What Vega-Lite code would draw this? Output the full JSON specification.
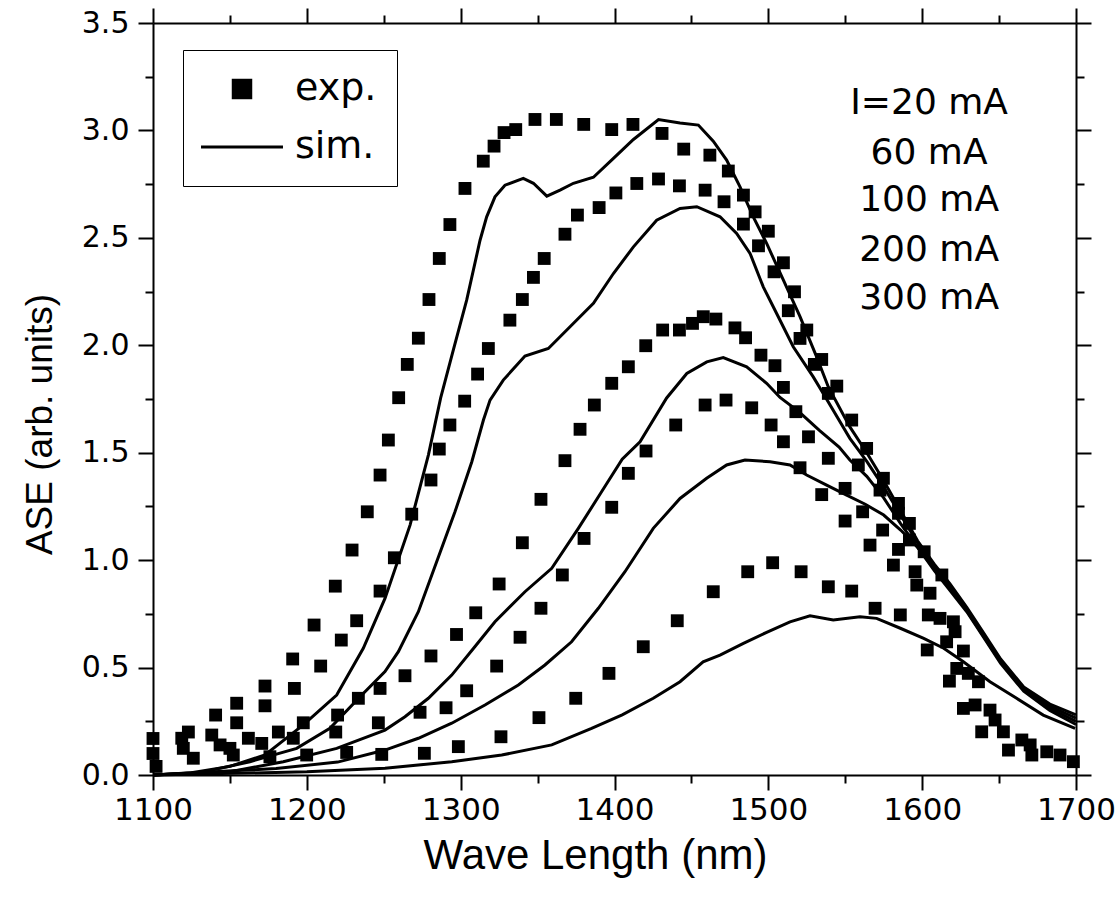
{
  "$schema": "https://vega.github.io/schema/vega-lite/v6.json",
  "width": 923,
  "height": 752,
  "autosize": "none",
  "padding": {"left": 153, "top": 23, "right": 44, "bottom": 130},
  "background": "white",
  "config": {"view": {"stroke": null}, "font": "DejaVu Sans"},
  "datasets": {
    "exp": [
      {"current": "300 mA", "wl": 1100, "ase": 0.17}, {"current": "300 mA", "wl": 1123, "ase": 0.2}, {"current": "300 mA", "wl": 1140.7, "ase": 0.279}, {"current": "300 mA", "wl": 1154.4, "ase": 0.334}, {"current": "300 mA", "wl": 1172.8, "ase": 0.414}, {"current": "300 mA", "wl": 1190.8, "ase": 0.54}, {"current": "300 mA", "wl": 1204.7, "ase": 0.698}, {"current": "300 mA", "wl": 1218.5, "ase": 0.879}, {"current": "300 mA", "wl": 1229.4, "ase": 1.047}, {"current": "300 mA", "wl": 1239.3, "ase": 1.225}, {"current": "300 mA", "wl": 1247.6, "ase": 1.396}, {"current": "300 mA", "wl": 1253, "ase": 1.559}, {"current": "300 mA", "wl": 1259.7, "ase": 1.756}, {"current": "300 mA", "wl": 1265.3, "ase": 1.911}, {"current": "300 mA", "wl": 1272.5, "ase": 2.033}, {"current": "300 mA", "wl": 1279.4, "ase": 2.213}, {"current": "300 mA", "wl": 1286.1, "ase": 2.404}, {"current": "300 mA", "wl": 1293, "ase": 2.562}, {"current": "300 mA", "wl": 1302.8, "ase": 2.73}, {"current": "300 mA", "wl": 1314.7, "ase": 2.857}, {"current": "300 mA", "wl": 1321.7, "ase": 2.927}, {"current": "300 mA", "wl": 1328.2, "ase": 2.99}, {"current": "300 mA", "wl": 1335.8, "ase": 3.004}, {"current": "300 mA", "wl": 1348.3, "ase": 3.051}, {"current": "300 mA", "wl": 1362.2, "ase": 3.051}, {"current": "300 mA", "wl": 1380, "ase": 3.028}, {"current": "300 mA", "wl": 1398.2, "ase": 3.004}, {"current": "300 mA", "wl": 1412, "ase": 3.028}, {"current": "300 mA", "wl": 1430.9, "ase": 2.986}, {"current": "300 mA", "wl": 1445, "ase": 2.913}, {"current": "300 mA", "wl": 1462, "ase": 2.885}, {"current": "300 mA", "wl": 1474, "ase": 2.811}, {"current": "300 mA", "wl": 1483.8, "ase": 2.699}, {"current": "300 mA", "wl": 1491.4, "ase": 2.621}, {"current": "300 mA", "wl": 1500, "ase": 2.531}, {"current": "300 mA", "wl": 1509.8, "ase": 2.384}, {"current": "300 mA", "wl": 1517, "ase": 2.249}, {"current": "300 mA", "wl": 1525, "ase": 2.071}, {"current": "300 mA", "wl": 1534.7, "ase": 1.934}, {"current": "300 mA", "wl": 1544.5, "ase": 1.81}, {"current": "300 mA", "wl": 1554.2, "ase": 1.652}, {"current": "300 mA", "wl": 1563.9, "ase": 1.52}, {"current": "300 mA", "wl": 1574.8, "ase": 1.381}, {"current": "300 mA", "wl": 1584.6, "ase": 1.264}, {"current": "300 mA", "wl": 1591.7, "ase": 1.171}, {"current": "300 mA", "wl": 1601.3, "ase": 1.039}, {"current": "300 mA", "wl": 1612.8, "ase": 0.931}, {"current": "300 mA", "wl": 1620.3, "ase": 0.713}, {"current": "300 mA", "wl": 1630, "ase": 0.473}, {"current": "300 mA", "wl": 1644.1, "ase": 0.302}, {"current": "300 mA", "wl": 1652.8, "ase": 0.201}, {"current": "300 mA", "wl": 1670.2, "ase": 0.14}, {"current": "300 mA", "wl": 1689.6, "ase": 0.093},
      {"current": "200 mA", "wl": 1100, "ase": 0.1}, {"current": "200 mA", "wl": 1118.7, "ase": 0.171}, {"current": "200 mA", "wl": 1138.2, "ase": 0.186}, {"current": "200 mA", "wl": 1154.4, "ase": 0.243}, {"current": "200 mA", "wl": 1172.8, "ase": 0.322}, {"current": "200 mA", "wl": 1191.9, "ase": 0.403}, {"current": "200 mA", "wl": 1209, "ase": 0.507}, {"current": "200 mA", "wl": 1222.4, "ase": 0.628}, {"current": "200 mA", "wl": 1232.4, "ase": 0.718}, {"current": "200 mA", "wl": 1247.6, "ase": 0.856}, {"current": "200 mA", "wl": 1256.9, "ase": 1.011}, {"current": "200 mA", "wl": 1268.2, "ase": 1.214}, {"current": "200 mA", "wl": 1280.7, "ase": 1.373}, {"current": "200 mA", "wl": 1286.1, "ase": 1.517}, {"current": "200 mA", "wl": 1293, "ase": 1.629}, {"current": "200 mA", "wl": 1302.6, "ase": 1.74}, {"current": "200 mA", "wl": 1311, "ase": 1.866}, {"current": "200 mA", "wl": 1318, "ase": 1.985}, {"current": "200 mA", "wl": 1332, "ase": 2.117}, {"current": "200 mA", "wl": 1340.1, "ase": 2.213}, {"current": "200 mA", "wl": 1347.3, "ase": 2.316}, {"current": "200 mA", "wl": 1354.3, "ase": 2.404}, {"current": "200 mA", "wl": 1367.8, "ase": 2.517}, {"current": "200 mA", "wl": 1375.9, "ase": 2.606}, {"current": "200 mA", "wl": 1390, "ase": 2.641}, {"current": "200 mA", "wl": 1400.9, "ase": 2.709}, {"current": "200 mA", "wl": 1414.5, "ase": 2.753}, {"current": "200 mA", "wl": 1428.6, "ase": 2.774}, {"current": "200 mA", "wl": 1442.2, "ase": 2.742}, {"current": "200 mA", "wl": 1458.9, "ase": 2.722}, {"current": "200 mA", "wl": 1471.2, "ase": 2.668}, {"current": "200 mA", "wl": 1483.8, "ase": 2.564}, {"current": "200 mA", "wl": 1493.6, "ase": 2.463}, {"current": "200 mA", "wl": 1503.7, "ase": 2.342}, {"current": "200 mA", "wl": 1513, "ase": 2.161}, {"current": "200 mA", "wl": 1520.6, "ase": 2.032}, {"current": "200 mA", "wl": 1529.9, "ase": 1.911}, {"current": "200 mA", "wl": 1539, "ase": 1.776}, {"current": "200 mA", "wl": 1558.5, "ase": 1.443}, {"current": "200 mA", "wl": 1572.6, "ase": 1.326}, {"current": "200 mA", "wl": 1584.6, "ase": 1.218}, {"current": "200 mA", "wl": 1591.7, "ase": 1.094}, {"current": "200 mA", "wl": 1604, "ase": 0.745}, {"current": "200 mA", "wl": 1621.4, "ase": 0.667}, {"current": "200 mA", "wl": 1634.4, "ase": 0.326}, {"current": "200 mA", "wl": 1647.4, "ase": 0.256}, {"current": "200 mA", "wl": 1664.8, "ase": 0.163}, {"current": "200 mA", "wl": 1681, "ase": 0.108}, {"current": "200 mA", "wl": 1698.3, "ase": 0.062},
      {"current": "100 mA", "wl": 1102, "ase": 0.04}, {"current": "100 mA", "wl": 1119.7, "ase": 0.124}, {"current": "100 mA", "wl": 1143.6, "ase": 0.14}, {"current": "100 mA", "wl": 1162, "ase": 0.171}, {"current": "100 mA", "wl": 1181.5, "ase": 0.2}, {"current": "100 mA", "wl": 1197.7, "ase": 0.243}, {"current": "100 mA", "wl": 1220, "ase": 0.279}, {"current": "100 mA", "wl": 1233.5, "ase": 0.357}, {"current": "100 mA", "wl": 1247.6, "ase": 0.403}, {"current": "100 mA", "wl": 1263.8, "ase": 0.462}, {"current": "100 mA", "wl": 1280.7, "ase": 0.554}, {"current": "100 mA", "wl": 1297.3, "ase": 0.654}, {"current": "100 mA", "wl": 1309.8, "ase": 0.755}, {"current": "100 mA", "wl": 1325, "ase": 0.889}, {"current": "100 mA", "wl": 1340.1, "ase": 1.081}, {"current": "100 mA", "wl": 1352.2, "ase": 1.283}, {"current": "100 mA", "wl": 1367.8, "ase": 1.463}, {"current": "100 mA", "wl": 1377.6, "ase": 1.609}, {"current": "100 mA", "wl": 1386.9, "ase": 1.722}, {"current": "100 mA", "wl": 1398.2, "ase": 1.823}, {"current": "100 mA", "wl": 1409, "ase": 1.9}, {"current": "100 mA", "wl": 1420.3, "ase": 1.998}, {"current": "100 mA", "wl": 1431.3, "ase": 2.071}, {"current": "100 mA", "wl": 1442.2, "ase": 2.071}, {"current": "100 mA", "wl": 1450.7, "ase": 2.102}, {"current": "100 mA", "wl": 1457.7, "ase": 2.133}, {"current": "100 mA", "wl": 1465.9, "ase": 2.122}, {"current": "100 mA", "wl": 1478.3, "ase": 2.081}, {"current": "100 mA", "wl": 1485.2, "ase": 2.035}, {"current": "100 mA", "wl": 1495.2, "ase": 1.954}, {"current": "100 mA", "wl": 1504.3, "ase": 1.905}, {"current": "100 mA", "wl": 1509.8, "ase": 1.804}, {"current": "100 mA", "wl": 1517.9, "ase": 1.691}, {"current": "100 mA", "wl": 1526.1, "ase": 1.574}, {"current": "100 mA", "wl": 1539, "ase": 1.474}, {"current": "100 mA", "wl": 1549.9, "ase": 1.334}, {"current": "100 mA", "wl": 1561.3, "ase": 1.225}, {"current": "100 mA", "wl": 1574.3, "ase": 1.14}, {"current": "100 mA", "wl": 1584.6, "ase": 1.05}, {"current": "100 mA", "wl": 1595.4, "ase": 0.946}, {"current": "100 mA", "wl": 1605.1, "ase": 0.846}, {"current": "100 mA", "wl": 1611.6, "ase": 0.729}, {"current": "100 mA", "wl": 1626.8, "ase": 0.577}, {"current": "100 mA", "wl": 1636.6, "ase": 0.434}, {"current": "100 mA", "wl": 1656.1, "ase": 0.116}, {"current": "100 mA", "wl": 1671.3, "ase": 0.093},
      {"current": "60 mA", "wl": 1126.2, "ase": 0.078}, {"current": "60 mA", "wl": 1150, "ase": 0.124}, {"current": "60 mA", "wl": 1170.7, "ase": 0.147}, {"current": "60 mA", "wl": 1191.2, "ase": 0.171}, {"current": "60 mA", "wl": 1218.8, "ase": 0.2}, {"current": "60 mA", "wl": 1246.5, "ase": 0.243}, {"current": "60 mA", "wl": 1273.6, "ase": 0.292}, {"current": "60 mA", "wl": 1290.5, "ase": 0.313}, {"current": "60 mA", "wl": 1303.9, "ase": 0.392}, {"current": "60 mA", "wl": 1323.4, "ase": 0.507}, {"current": "60 mA", "wl": 1338.6, "ase": 0.641}, {"current": "60 mA", "wl": 1352.2, "ase": 0.776}, {"current": "60 mA", "wl": 1366.1, "ase": 0.931}, {"current": "60 mA", "wl": 1380.2, "ase": 1.101}, {"current": "60 mA", "wl": 1398.2, "ase": 1.246}, {"current": "60 mA", "wl": 1409, "ase": 1.404}, {"current": "60 mA", "wl": 1420.5, "ase": 1.508}, {"current": "60 mA", "wl": 1439.8, "ase": 1.629}, {"current": "60 mA", "wl": 1458.9, "ase": 1.722}, {"current": "60 mA", "wl": 1472.5, "ase": 1.745}, {"current": "60 mA", "wl": 1489.2, "ase": 1.709}, {"current": "60 mA", "wl": 1501.8, "ase": 1.629}, {"current": "60 mA", "wl": 1509.8, "ase": 1.551}, {"current": "60 mA", "wl": 1520.6, "ase": 1.43}, {"current": "60 mA", "wl": 1534.7, "ase": 1.305}, {"current": "60 mA", "wl": 1549.9, "ase": 1.182}, {"current": "60 mA", "wl": 1566.1, "ase": 1.07}, {"current": "60 mA", "wl": 1581.3, "ase": 0.977}, {"current": "60 mA", "wl": 1596.5, "ase": 0.884}, {"current": "60 mA", "wl": 1615.9, "ase": 0.62}, {"current": "60 mA", "wl": 1622.5, "ase": 0.496}, {"current": "60 mA", "wl": 1626.8, "ase": 0.31}, {"current": "60 mA", "wl": 1638.7, "ase": 0.201},
      {"current": "20 mA", "wl": 1152.2, "ase": 0.093}, {"current": "20 mA", "wl": 1176, "ase": 0.085}, {"current": "20 mA", "wl": 1199.9, "ase": 0.093}, {"current": "20 mA", "wl": 1225.9, "ase": 0.105}, {"current": "20 mA", "wl": 1248.7, "ase": 0.096}, {"current": "20 mA", "wl": 1276.4, "ase": 0.101}, {"current": "20 mA", "wl": 1298.5, "ase": 0.132}, {"current": "20 mA", "wl": 1326.2, "ase": 0.178}, {"current": "20 mA", "wl": 1350.9, "ase": 0.267}, {"current": "20 mA", "wl": 1374.8, "ase": 0.357}, {"current": "20 mA", "wl": 1396.4, "ase": 0.473}, {"current": "20 mA", "wl": 1418.7, "ase": 0.597}, {"current": "20 mA", "wl": 1440.8, "ase": 0.718}, {"current": "20 mA", "wl": 1464.2, "ase": 0.853}, {"current": "20 mA", "wl": 1486.6, "ase": 0.946}, {"current": "20 mA", "wl": 1502.8, "ase": 0.988}, {"current": "20 mA", "wl": 1521.3, "ase": 0.946}, {"current": "20 mA", "wl": 1539, "ase": 0.876}, {"current": "20 mA", "wl": 1554.2, "ase": 0.856}, {"current": "20 mA", "wl": 1569.4, "ase": 0.776}, {"current": "20 mA", "wl": 1585.8, "ase": 0.745}, {"current": "20 mA", "wl": 1603.3, "ase": 0.582}, {"current": "20 mA", "wl": 1617.7, "ase": 0.437}
    ],
    "sim": [
      {"current": "300 mA", "wl": 1100, "ase": 0}, {"current": "300 mA", "wl": 1125, "ase": 0.01}, {"current": "300 mA", "wl": 1150, "ase": 0.04}, {"current": "300 mA", "wl": 1172.8, "ase": 0.093}, {"current": "300 mA", "wl": 1197.7, "ase": 0.233}, {"current": "300 mA", "wl": 1219.4, "ase": 0.372}, {"current": "300 mA", "wl": 1236.7, "ase": 0.59}, {"current": "300 mA", "wl": 1250.8, "ase": 0.822}, {"current": "300 mA", "wl": 1267.1, "ase": 1.163}, {"current": "300 mA", "wl": 1279, "ase": 1.489}, {"current": "300 mA", "wl": 1287, "ase": 1.755}, {"current": "300 mA", "wl": 1295.2, "ase": 1.978}, {"current": "300 mA", "wl": 1303.9, "ase": 2.21}, {"current": "300 mA", "wl": 1312.6, "ase": 2.489}, {"current": "300 mA", "wl": 1316.9, "ase": 2.598}, {"current": "300 mA", "wl": 1322.3, "ase": 2.691}, {"current": "300 mA", "wl": 1328.8, "ase": 2.745}, {"current": "300 mA", "wl": 1340.7, "ase": 2.777}, {"current": "300 mA", "wl": 1347.3, "ase": 2.754}, {"current": "300 mA", "wl": 1356, "ase": 2.694}, {"current": "300 mA", "wl": 1364.6, "ase": 2.722}, {"current": "300 mA", "wl": 1373.3, "ase": 2.754}, {"current": "300 mA", "wl": 1386.3, "ase": 2.782}, {"current": "300 mA", "wl": 1399.3, "ase": 2.87}, {"current": "300 mA", "wl": 1412.3, "ase": 2.958}, {"current": "300 mA", "wl": 1428.6, "ase": 3.051}, {"current": "300 mA", "wl": 1442.6, "ase": 3.035}, {"current": "300 mA", "wl": 1454.5, "ase": 3.025}, {"current": "300 mA", "wl": 1464.2, "ase": 2.95}, {"current": "300 mA", "wl": 1472.9, "ase": 2.862}, {"current": "300 mA", "wl": 1481.6, "ase": 2.737}, {"current": "300 mA", "wl": 1490.2, "ase": 2.598}, {"current": "300 mA", "wl": 1498.9, "ase": 2.474}, {"current": "300 mA", "wl": 1509.8, "ase": 2.303}, {"current": "300 mA", "wl": 1520.6, "ase": 2.133}, {"current": "300 mA", "wl": 1531.4, "ase": 1.946}, {"current": "300 mA", "wl": 1539, "ase": 1.806}, {"current": "300 mA", "wl": 1553, "ase": 1.62}, {"current": "300 mA", "wl": 1564, "ase": 1.5}, {"current": "300 mA", "wl": 1575, "ase": 1.37}, {"current": "300 mA", "wl": 1586, "ase": 1.23}, {"current": "300 mA", "wl": 1597, "ase": 1.09}, {"current": "300 mA", "wl": 1608, "ase": 0.98}, {"current": "300 mA", "wl": 1618, "ase": 0.89}, {"current": "300 mA", "wl": 1629, "ase": 0.78}, {"current": "300 mA", "wl": 1640, "ase": 0.66}, {"current": "300 mA", "wl": 1651, "ase": 0.54}, {"current": "300 mA", "wl": 1666, "ase": 0.41}, {"current": "300 mA", "wl": 1683, "ase": 0.33}, {"current": "300 mA", "wl": 1700, "ase": 0.28},
      {"current": "200 mA", "wl": 1100, "ase": 0}, {"current": "200 mA", "wl": 1130, "ase": 0.01}, {"current": "200 mA", "wl": 1163, "ase": 0.062}, {"current": "200 mA", "wl": 1193.4, "ase": 0.124}, {"current": "200 mA", "wl": 1215, "ase": 0.217}, {"current": "200 mA", "wl": 1234.6, "ase": 0.364}, {"current": "200 mA", "wl": 1250.8, "ase": 0.481}, {"current": "200 mA", "wl": 1259.5, "ase": 0.574}, {"current": "200 mA", "wl": 1272.5, "ase": 0.76}, {"current": "200 mA", "wl": 1284.4, "ase": 0.993}, {"current": "200 mA", "wl": 1296.3, "ase": 1.225}, {"current": "200 mA", "wl": 1307.2, "ase": 1.457}, {"current": "200 mA", "wl": 1314.8, "ase": 1.652}, {"current": "200 mA", "wl": 1319.1, "ase": 1.745}, {"current": "200 mA", "wl": 1327.7, "ase": 1.838}, {"current": "200 mA", "wl": 1341.8, "ase": 1.95}, {"current": "200 mA", "wl": 1357, "ase": 1.985}, {"current": "200 mA", "wl": 1371.1, "ase": 2.086}, {"current": "200 mA", "wl": 1386.3, "ase": 2.195}, {"current": "200 mA", "wl": 1399.3, "ase": 2.334}, {"current": "200 mA", "wl": 1412.3, "ase": 2.458}, {"current": "200 mA", "wl": 1427.4, "ase": 2.582}, {"current": "200 mA", "wl": 1442.6, "ase": 2.637}, {"current": "200 mA", "wl": 1453.5, "ase": 2.645}, {"current": "200 mA", "wl": 1468.6, "ase": 2.598}, {"current": "200 mA", "wl": 1479.4, "ase": 2.521}, {"current": "200 mA", "wl": 1488.1, "ase": 2.428}, {"current": "200 mA", "wl": 1496.7, "ase": 2.272}, {"current": "200 mA", "wl": 1505.4, "ase": 2.148}, {"current": "200 mA", "wl": 1516.2, "ase": 1.993}, {"current": "200 mA", "wl": 1529.2, "ase": 1.853}, {"current": "200 mA", "wl": 1535.7, "ase": 1.776}, {"current": "200 mA", "wl": 1553, "ase": 1.567}, {"current": "200 mA", "wl": 1564, "ase": 1.46}, {"current": "200 mA", "wl": 1575, "ase": 1.34}, {"current": "200 mA", "wl": 1586, "ase": 1.21}, {"current": "200 mA", "wl": 1597, "ase": 1.08}, {"current": "200 mA", "wl": 1608, "ase": 0.97}, {"current": "200 mA", "wl": 1618, "ase": 0.88}, {"current": "200 mA", "wl": 1629, "ase": 0.77}, {"current": "200 mA", "wl": 1640, "ase": 0.65}, {"current": "200 mA", "wl": 1651, "ase": 0.53}, {"current": "200 mA", "wl": 1666, "ase": 0.4}, {"current": "200 mA", "wl": 1683, "ase": 0.32}, {"current": "200 mA", "wl": 1700, "ase": 0.265},
      {"current": "100 mA", "wl": 1100, "ase": 0}, {"current": "100 mA", "wl": 1150, "ase": 0.015}, {"current": "100 mA", "wl": 1184.7, "ase": 0.062}, {"current": "100 mA", "wl": 1219.4, "ase": 0.124}, {"current": "100 mA", "wl": 1250.8, "ase": 0.209}, {"current": "100 mA", "wl": 1263.8, "ase": 0.271}, {"current": "100 mA", "wl": 1279, "ase": 0.357}, {"current": "100 mA", "wl": 1294.2, "ase": 0.465}, {"current": "100 mA", "wl": 1309.2, "ase": 0.597}, {"current": "100 mA", "wl": 1322.3, "ase": 0.713}, {"current": "100 mA", "wl": 1341.8, "ase": 0.853}, {"current": "100 mA", "wl": 1359.2, "ase": 0.962}, {"current": "100 mA", "wl": 1376.5, "ase": 1.148}, {"current": "100 mA", "wl": 1391.6, "ase": 1.318}, {"current": "100 mA", "wl": 1405, "ase": 1.47}, {"current": "100 mA", "wl": 1416.6, "ase": 1.551}, {"current": "100 mA", "wl": 1433.9, "ase": 1.755}, {"current": "100 mA", "wl": 1447, "ase": 1.869}, {"current": "100 mA", "wl": 1460, "ase": 1.923}, {"current": "100 mA", "wl": 1470.7, "ase": 1.943}, {"current": "100 mA", "wl": 1485.9, "ase": 1.9}, {"current": "100 mA", "wl": 1498.9, "ase": 1.823}, {"current": "100 mA", "wl": 1507.6, "ase": 1.757}, {"current": "100 mA", "wl": 1520, "ase": 1.69}, {"current": "100 mA", "wl": 1533, "ase": 1.605}, {"current": "100 mA", "wl": 1546, "ase": 1.526}, {"current": "100 mA", "wl": 1553, "ase": 1.466}, {"current": "100 mA", "wl": 1564, "ase": 1.39}, {"current": "100 mA", "wl": 1575, "ase": 1.29}, {"current": "100 mA", "wl": 1586, "ase": 1.17}, {"current": "100 mA", "wl": 1597, "ase": 1.06}, {"current": "100 mA", "wl": 1608, "ase": 0.96}, {"current": "100 mA", "wl": 1618, "ase": 0.87}, {"current": "100 mA", "wl": 1629, "ase": 0.765}, {"current": "100 mA", "wl": 1640, "ase": 0.645}, {"current": "100 mA", "wl": 1651, "ase": 0.525}, {"current": "100 mA", "wl": 1666, "ase": 0.395}, {"current": "100 mA", "wl": 1683, "ase": 0.31}, {"current": "100 mA", "wl": 1700, "ase": 0.25},
      {"current": "60 mA", "wl": 1100, "ase": 0}, {"current": "60 mA", "wl": 1180, "ase": 0.03}, {"current": "60 mA", "wl": 1220, "ase": 0.06}, {"current": "60 mA", "wl": 1250.8, "ase": 0.116}, {"current": "60 mA", "wl": 1272.5, "ase": 0.171}, {"current": "60 mA", "wl": 1294.2, "ase": 0.241}, {"current": "60 mA", "wl": 1315.8, "ase": 0.326}, {"current": "60 mA", "wl": 1337.5, "ase": 0.419}, {"current": "60 mA", "wl": 1354.8, "ase": 0.512}, {"current": "60 mA", "wl": 1372.1, "ase": 0.62}, {"current": "60 mA", "wl": 1389.5, "ase": 0.776}, {"current": "60 mA", "wl": 1406.8, "ase": 0.946}, {"current": "60 mA", "wl": 1425.2, "ase": 1.148}, {"current": "60 mA", "wl": 1442.6, "ase": 1.287}, {"current": "60 mA", "wl": 1459.9, "ase": 1.381}, {"current": "60 mA", "wl": 1472.9, "ase": 1.443}, {"current": "60 mA", "wl": 1484.8, "ase": 1.466}, {"current": "60 mA", "wl": 1501.1, "ase": 1.458}, {"current": "60 mA", "wl": 1514.1, "ase": 1.443}, {"current": "60 mA", "wl": 1524.9, "ase": 1.396}, {"current": "60 mA", "wl": 1537.9, "ase": 1.349}, {"current": "60 mA", "wl": 1550.9, "ase": 1.303}, {"current": "60 mA", "wl": 1563, "ase": 1.26}, {"current": "60 mA", "wl": 1575, "ase": 1.21}, {"current": "60 mA", "wl": 1586, "ase": 1.14}, {"current": "60 mA", "wl": 1597, "ase": 1.06}, {"current": "60 mA", "wl": 1608, "ase": 0.95}, {"current": "60 mA", "wl": 1618, "ase": 0.86}, {"current": "60 mA", "wl": 1629, "ase": 0.76}, {"current": "60 mA", "wl": 1640, "ase": 0.64}, {"current": "60 mA", "wl": 1651, "ase": 0.52}, {"current": "60 mA", "wl": 1666, "ase": 0.39}, {"current": "60 mA", "wl": 1683, "ase": 0.3}, {"current": "60 mA", "wl": 1700, "ase": 0.235},
      {"current": "20 mA", "wl": 1100, "ase": 0}, {"current": "20 mA", "wl": 1200, "ase": 0.015}, {"current": "20 mA", "wl": 1250.8, "ase": 0.031}, {"current": "20 mA", "wl": 1294.2, "ase": 0.062}, {"current": "20 mA", "wl": 1326.7, "ase": 0.093}, {"current": "20 mA", "wl": 1359.2, "ase": 0.14}, {"current": "20 mA", "wl": 1385.1, "ase": 0.217}, {"current": "20 mA", "wl": 1405, "ase": 0.28}, {"current": "20 mA", "wl": 1425.2, "ase": 0.357}, {"current": "20 mA", "wl": 1442.6, "ase": 0.434}, {"current": "20 mA", "wl": 1457.6, "ase": 0.527}, {"current": "20 mA", "wl": 1468.6, "ase": 0.558}, {"current": "20 mA", "wl": 1483.8, "ase": 0.613}, {"current": "20 mA", "wl": 1498.9, "ase": 0.664}, {"current": "20 mA", "wl": 1514.1, "ase": 0.713}, {"current": "20 mA", "wl": 1527.1, "ase": 0.741}, {"current": "20 mA", "wl": 1542.2, "ase": 0.721}, {"current": "20 mA", "wl": 1559.6, "ase": 0.736}, {"current": "20 mA", "wl": 1570.4, "ase": 0.729}, {"current": "20 mA", "wl": 1585.8, "ase": 0.683}, {"current": "20 mA", "wl": 1601, "ase": 0.636}, {"current": "20 mA", "wl": 1614, "ase": 0.59}, {"current": "20 mA", "wl": 1626.8, "ase": 0.527}, {"current": "20 mA", "wl": 1644.1, "ase": 0.434}, {"current": "20 mA", "wl": 1661.4, "ase": 0.357}, {"current": "20 mA", "wl": 1678.7, "ase": 0.279}, {"current": "20 mA", "wl": 1699.4, "ase": 0.217}
    ],
    "notes": [
      {"label": "I=20 mA", "wl": 1604.5, "ase": 3.128},
      {"label": "60 mA", "wl": 1604.5, "ase": 2.895},
      {"label": "100 mA", "wl": 1604.5, "ase": 2.676},
      {"label": "200 mA", "wl": 1604.5, "ase": 2.443},
      {"label": "300 mA", "wl": 1604.5, "ase": 2.22}
    ]
  },
  "layer": [
    {
      "data": {"name": "exp"},
      "mark": {"type": "point", "shape": "square", "filled": true, "color": "black", "size": 165, "opacity": 1},
      "encoding": {
        "x": {
          "field": "wl", "type": "quantitative",
          "scale": {"domain": [1100, 1700], "nice": false, "zero": false},
          "axis": {
            "orient": "bottom",
            "values": [1100, 1150, 1200, 1250, 1300, 1350, 1400, 1450, 1500, 1550, 1600, 1650, 1700],
            "format": "d",
            "labelExpr": "datum.value % 100 === 0 ? datum.label : ''",
            "tickSize": {"condition": {"test": "datum.value % 100 === 0", "value": 15}, "value": 8},
            "tickWidth": 2, "tickColor": "black",
            "domainColor": "black", "domainWidth": 2,
            "grid": false,
            "labelFont": "DejaVu Sans", "labelFontSize": 31, "labelColor": "black",
            "labelPadding": 5, "labelFlush": false, "labelOverlap": false,
            "title": "Wave Length (nm)",
            "titleFont": "Liberation Sans", "titleFontSize": 42, "titleFontWeight": "normal", "titleColor": "black",
            "titleX": 442, "titleY": 93, "titleBaseline": "alphabetic", "titleAlign": "center"
          }
        },
        "y": {
          "field": "ase", "type": "quantitative",
          "scale": {"domain": [0, 3.5], "nice": false, "zero": false},
          "axis": {
            "orient": "left",
            "values": [0, 0.25, 0.5, 0.75, 1, 1.25, 1.5, 1.75, 2, 2.25, 2.5, 2.75, 3, 3.25, 3.5],
            "labelExpr": "abs(datum.value * 2 - round(datum.value * 2)) < 0.001 ? format(datum.value, '.1f') : ''",
            "tickSize": {"condition": {"test": "abs(datum.value * 2 - round(datum.value * 2)) < 0.001", "value": 15}, "value": 8},
            "tickWidth": 2, "tickColor": "black",
            "domainColor": "black", "domainWidth": 2,
            "grid": false,
            "labelFont": "DejaVu Sans", "labelFontSize": 30, "labelColor": "black",
            "labelPadding": 9, "labelFlush": false, "labelOverlap": false,
            "title": "ASE (arb. units)",
            "titleFont": "Liberation Sans", "titleFontSize": 37, "titleFontWeight": "normal", "titleColor": "black",
            "titleAngle": 270, "titleX": -102, "titleY": 401, "titleBaseline": "alphabetic", "titleAlign": "center"
          }
        },
        "shape": {
          "datum": "exp.", "type": "nominal",
          "scale": {"domain": ["exp.", "sim."], "range": ["square", "M-4,-0.14L4,-0.14L4,0.14L-4,0.14Z"]},
          "legend": {
            "orient": "none", "legendX": 30, "legendY": 27,
            "title": null,
            "padding": 20,
            "strokeColor": "black", "fillColor": "white",
            "symbolSize": 420, "symbolFillColor": "black", "symbolStrokeColor": "black", "symbolStrokeWidth": 0,
            "symbolOffset": 20, "labelOffset": 34,
            "labelFont": "DejaVu Sans", "labelFontSize": 38, "labelColor": "black",
            "rowPadding": 20,
            "encode": {
              "symbols": {"update": {"fill": {"value": "black"}, "fillOpacity": {"value": 1}, "opacity": {"value": 1}, "strokeWidth": {"value": 0}}}
            }
          }
        }
      }
    },
    {
      "data": {"name": "sim"},
      "mark": {"type": "line", "color": "black", "strokeWidth": 3},
      "encoding": {
        "x": {
          "field": "wl", "type": "quantitative",
          "axis": {
            "orient": "top",
            "values": [1100, 1150, 1200, 1250, 1300, 1350, 1400, 1450, 1500, 1550, 1600, 1650, 1700],
            "labels": false, "title": null, "grid": false,
            "tickSize": {"condition": {"test": "datum.value % 100 === 0", "value": 15}, "value": 8},
            "tickWidth": 2, "tickColor": "black",
            "domainColor": "black", "domainWidth": 2
          }
        },
        "y": {
          "field": "ase", "type": "quantitative",
          "axis": {
            "orient": "right",
            "values": [0, 0.25, 0.5, 0.75, 1, 1.25, 1.5, 1.75, 2, 2.25, 2.5, 2.75, 3, 3.25, 3.5],
            "labels": false, "title": null, "grid": false,
            "tickSize": {"condition": {"test": "abs(datum.value * 2 - round(datum.value * 2)) < 0.001", "value": 15}, "value": 8},
            "tickWidth": 2, "tickColor": "black",
            "domainColor": "black", "domainWidth": 2
          }
        },
        "detail": {"field": "current", "type": "nominal"}
      }
    },
    {
      "data": {"name": "notes"},
      "mark": {"type": "text", "font": "DejaVu Sans", "fontSize": 36, "align": "center", "baseline": "middle", "color": "black"},
      "encoding": {
        "x": {"field": "wl", "type": "quantitative", "axis": null},
        "y": {"field": "ase", "type": "quantitative", "axis": null},
        "text": {"field": "label", "type": "nominal"}
      }
    }
  ],
  "resolve": {"axis": {"x": "independent", "y": "independent"}}
}
